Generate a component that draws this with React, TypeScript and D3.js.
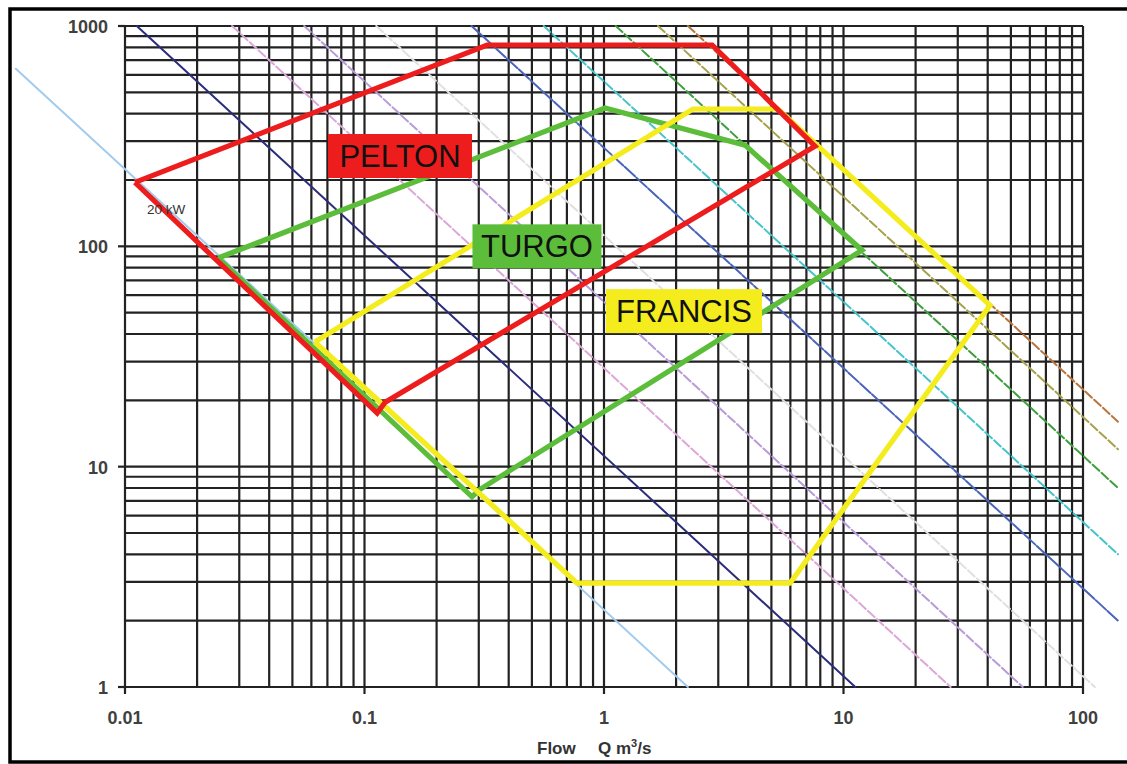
import React from "react";
import * as d3 from "d3";

// ---- Data ----
const xTickValues = [0.01, 0.1, 1, 10, 100];
const xTickLabels = ["0.01", "0.1", "1", "10", "100"];
const yTickValues = [1, 10, 100, 1000];
const yTickLabels = ["1", "10", "100", "1000"];

// constant-power lines: Q*H product (m^3/s * m)
const powerLabels = ["20 kW", "100 kW", "250 kW", "500 kW", "1 MW", "2.5 MW", "5 MW", "10 MW", "15 MW", "20 MW"];
const powerQH = [2.24, 11.2, 28, 56, 112, 280, 560, 1120, 1680, 2240];
const powerColors = ["#a3cbee", "#2c2c7c", "#dba8d8", "#b99bd8", "#e0e0e0", "#4a64b9", "#46c4cc", "#3f9f3f", "#a6a24c", "#b9753f"];
const powerDash = [null, null, "9,3", "9,3", "9,3", "14,2", "9,3", "9,3", "9,3", "9,3"];
const flowMin = 0.0035;
const flowMax = 140;

const peltonQ = [0.011, 0.325, 2.83, 7.6, 0.122, 0.113];
const peltonH = [195, 820, 820, 285, 19.6, 17.5];
const turgoQ = [0.0245, 1.01, 3.88, 11.95, 0.304, 0.281];
const turgoH = [88.5, 424, 288, 96, 7.9, 7.3];
const francisQ = [0.062, 2.35, 5.33, 40.9, 5.98, 0.772];
const francisH = [36.8, 420, 420, 54, 2.96, 2.96];

const turbineNames = ["PELTON", "TURGO", "FRANCIS"];
const turbineColors = ["#ee1d1d", "#5bbd3a", "#f4ec1c"];
const labelQ = [0.1407, 0.525, 2.158];
const labelH = [257, 100, 50.8];
const labelW = [144, 129, 156];

export default function App() {
  const W = 1127, H = 764;
  const x = d3.scaleLog().domain([0.01, 100]).range([125, 1083]);
  const y = d3.scaleLog().domain([1, 1000]).range([687, 26]);

  const gridX = x.ticks();
  const gridY = y.ticks();

  const line = d3
    .line<[number, number]>()
    .x((d) => x(d[0]))
    .y((d) => y(d[1]));

  const poly = (qs: number[], hs: number[]) => {
    const pts: [number, number][] = qs.map((q, i) => [q, hs[i]]);
    pts.push(pts[0]);
    return line(pts) || "";
  };

  const turbines = [
    { q: peltonQ, h: peltonH, color: turbineColors[0] },
    { q: turgoQ, h: turgoH, color: turbineColors[1] },
    { q: francisQ, h: francisH, color: turbineColors[2] },
  ];
  const drawOrder = [1, 2, 0];

  const font = "'Liberation Sans', Arial, sans-serif";

  return (
    <svg width={W} height={H} style={{ position: "absolute", left: 0, top: 0, background: "#fff" }} fontFamily={font}>
      <rect x={0} y={0} width={W} height={H} fill="#fff" />
      {/* frame */}
      <rect x={10} y={9} width={W + 20} height={753} fill="none" stroke="#000" strokeWidth={3.5} />

      {/* grid */}
      <g stroke="#222" strokeWidth={2.2}>
        {gridX.map((v, i) => (
          <line key={"gx" + i} x1={x(v)} x2={x(v)} y1={y(1000)} y2={y(1)} />
        ))}
        {gridY.map((v, i) => (
          <line key={"gy" + i} x1={x(0.01)} x2={x(100)} y1={y(v)} y2={y(v)} />
        ))}
        {yTickValues.map((v, i) => (
          <line key={"ty" + i} x1={x(0.01) - 7} x2={x(0.01)} y1={y(v)} y2={y(v)} />
        ))}
        {xTickValues.map((v, i) => (
          <line key={"tx" + i} x1={x(v)} x2={x(v)} y1={y(1)} y2={y(1) + 7} />
        ))}
      </g>

      {/* power lines */}
      <g fill="none" strokeLinecap="round">
        {powerQH.map((k, i) => {
          const q0 = Math.max(k / 1000, flowMin);
          const q1 = Math.min(k / 1, flowMax);
          return (
            <path
              key={"p" + i}
              d={line([[q0, k / q0], [q1, k / q1]]) || ""}
              stroke={powerColors[i]}
              strokeWidth={2}
              strokeDasharray={powerDash[i] || undefined}
            />
          );
        })}
      </g>

      {/* turbine envelopes */}
      <g fill="none" strokeWidth={5.2} strokeLinejoin="miter" strokeMiterlimit={4}>
        {drawOrder.map((ti) => (
          <path key={"t" + ti} d={poly(turbines[ti].q, turbines[ti].h)} stroke={turbines[ti].color} />
        ))}
      </g>

      {/* 20 kW label */}
      <text x={x(0.01236)} y={y(149) + 6} fontSize={13.5} fill="#333">
        20 kW
      </text>

      {/* turbine labels */}
      {turbineNames.map((n, i) => {
        const cx = x(labelQ[i]);
        const cy = y(labelH[i]);
        return (
          <g key={"l" + i}>
            <rect x={cx - labelW[i] / 2} y={cy - 22} width={labelW[i]} height={44} fill={turbineColors[i]} />
            <text x={cx} y={cy + 11} textAnchor="middle" fontSize={31} fill="#111">
              {n}
            </text>
          </g>
        );
      })}

      {/* axis labels */}
      <g fontSize={18} fontWeight="bold" fill="#404040">
        {xTickValues.map((v, i) => (
          <text key={"xl" + i} x={x(v)} y={724} textAnchor="middle">
            {xTickLabels[i]}
          </text>
        ))}
        {yTickValues.map((v, i) => (
          <text key={"yl" + i} x={108} y={y(v) + 7} textAnchor="end">
            {yTickLabels[i]}
          </text>
        ))}
      </g>
      <g fontSize={17} fontWeight="bold" fill="#333">
        <text x={537} y={754}>Flow</text>
        <text x={598} y={754}>
          Q m<tspan fontSize={11} dy={-7}>3</tspan>
          <tspan dy={7}>/s</tspan>
        </text>
      </g>
    </svg>
  );
}
